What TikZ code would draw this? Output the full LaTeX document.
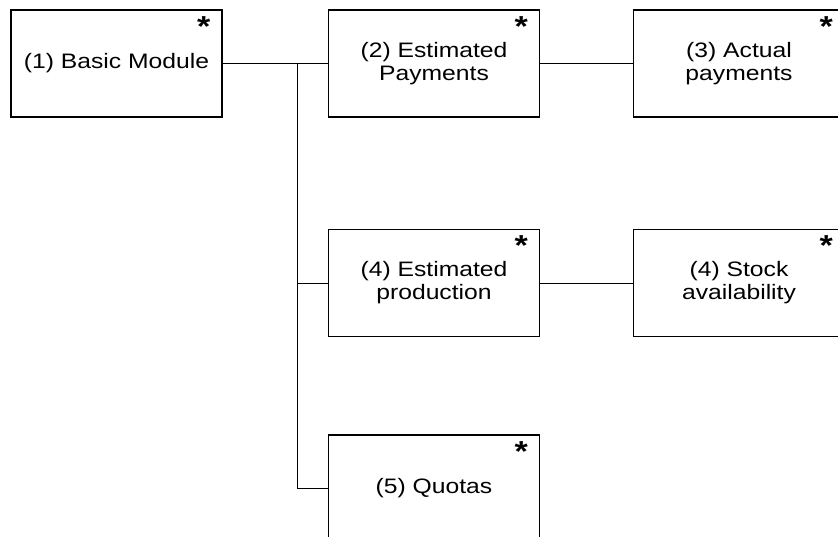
\documentclass[tikz,border=0pt]{standalone}
\usepackage{fontspec}
\setmainfont{Liberation Sans}[FakeStretch=1.18]
\usetikzlibrary{calc}

\tikzset{
  modulo/.style={draw, line width=1.2bp, minimum width=211bp, minimum height=107bp,
    inner sep=0pt, align=center, font=\fontsize{21}{23}\selectfont},
  stella/.style={anchor=north east, inner sep=0pt, font=\bfseries\fontsize{29}{29}\selectfont},
  linea/.style={line width=0.9bp}
}

\begin{document}
\begin{tikzpicture}[x=1bp, y=-1bp]
        \useasboundingbox (0,0) rectangle (838,537);
        %moduli
        \node[modulo] (base) at (116.5,63.5) {(1) Basic Module};
        \node[modulo] (stimpag) at (434,63.5) {(2) Estimated\\Payments};
        \node[modulo] (effpag) at (739,63.5) {(3) Actual\\payments};
        \node[modulo] (stimprod) at (434,283) {(4) Estimated\\production};
        \node[modulo] (scorte) at (739,283) {(4) Stock\\availability};
        \node[modulo] (quote) at (434,488.5) {(5) Quotas};
        %asterischi
        \foreach \m in {base, stimpag, effpag, stimprod, scorte, quote}
            \node[stella] (ast-\m) at ($(\m.north east)+(-12,7)$) {*};
        %collegamenti
        \coordinate (nodo) at (297,63.5);
        \draw[linea] (base) -- (nodo) -- (stimpag);
        \draw[linea] (nodo) |- (stimprod.west);
        \draw[linea] (nodo) |- (quote.west);
        \draw[linea] (stimpag) -- (effpag);
        \draw[linea] (stimprod) -- (scorte);
    \end{tikzpicture}
\end{document}
